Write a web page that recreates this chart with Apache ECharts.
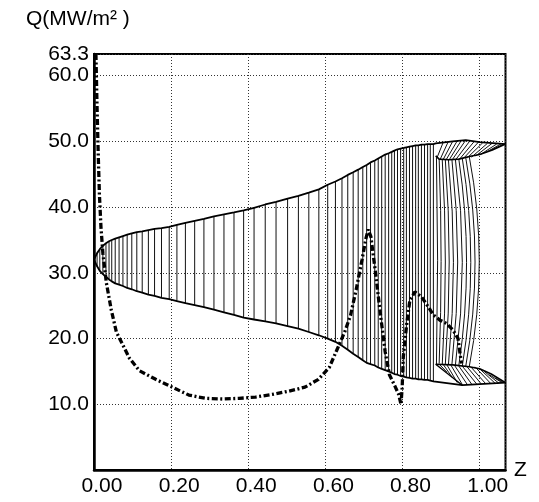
<!DOCTYPE html>
<html>
<head>
<meta charset="utf-8">
<script src="https://cdn.jsdelivr.net/npm/echarts@6/dist/echarts.min.js"></script>
<style>
  html, body { margin: 0; padding: 0; background: #fff; }
  #chart { width: 539px; height: 502px; }
</style>
</head>
<body>
<div id="chart"></div>
<script>
// Axis ranges
const zMax = 1.067;
const qMax = 63.3;

// Heat flux Q along Z (dashed curve)
const fluxZ = [0.005, 0.008, 0.011, 0.014, 0.018, 0.023, 0.032, 0.045, 0.058, 0.075,
               0.092, 0.118, 0.16, 0.203, 0.246, 0.29, 0.333, 0.376, 0.419, 0.462,
               0.505, 0.547, 0.582, 0.61, 0.63, 0.65, 0.665, 0.68, 0.695, 0.705,
               0.711, 0.718, 0.73, 0.742, 0.755, 0.766, 0.78, 0.79, 0.796, 0.799,
               0.802, 0.811, 0.819, 0.832, 0.85, 0.867, 0.88, 0.897, 0.914, 0.931,
               0.944, 0.948, 0.953];
const fluxQ = [63.3, 55, 48, 42, 37, 33, 28.5, 24.3, 21.0, 19.0,
               17.0, 15.1, 13.8, 12.6, 11.4, 10.9, 10.8, 10.9, 11.1, 11.5,
               12.0, 12.6, 13.8, 15.6, 18.3, 21.0, 23.5, 27.5, 32.0, 35.2,
               36.6, 35.5, 30.0, 24.0, 18.0, 14.5, 12.8, 11.5, 10.0, 12.5,
               17.2, 22.3, 25.8, 27.1, 26.3, 24.8, 23.6, 22.8, 22.3, 21.3,
               20.0, 18.2, 16.2];

// Vertical hatch lines of the band: position, top value, bottom value, bow to the right
const hatchZ = [0.008, 0.015, 0.023, 0.031, 0.039, 0.046, 0.055, 0.065, 0.075, 0.086,
                0.098, 0.111, 0.125, 0.141, 0.157, 0.175, 0.195, 0.215, 0.237, 0.261,
                0.285, 0.311, 0.337, 0.363, 0.388, 0.415, 0.444, 0.472, 0.502, 0.530,
                0.557, 0.583, 0.606, 0.626, 0.643, 0.658, 0.672, 0.685, 0.697, 0.707,
                0.717, 0.728, 0.737, 0.746, 0.755, 0.764, 0.772, 0.779, 0.787, 0.795,
                0.803, 0.810, 0.818, 0.826, 0.834, 0.841, 0.849, 0.857, 0.865, 0.872,
                0.880, 0.888, 0.895, 0.903, 0.911, 0.919, 0.928, 0.937, 0.946, 0.955,
                0.964, 0.973];
const hatchHi = [33.0, 33.6, 34.1, 34.5, 34.8, 35.0, 35.2, 35.4, 35.6, 35.8,
                 36.0, 36.2, 36.3, 36.5, 36.7, 36.8, 37.0, 37.3, 37.6, 37.9,
                 38.2, 38.6, 38.9, 39.2, 39.5, 39.9, 40.4, 40.8, 41.3, 41.7,
                 42.2, 42.7, 43.4, 43.9, 44.4, 44.9, 45.3, 45.7, 46.1, 46.4,
                 46.8, 47.1, 47.4, 47.7, 48.0, 48.2, 48.4, 48.6, 48.8, 48.9,
                 49.0, 49.1, 49.2, 49.3, 49.4, 49.4, 49.5, 49.5, 49.6, 49.6,
                 49.6, 47.6, 47.3, 47.2, 47.2, 47.2, 47.3, 47.3, 47.3, 47.4,
                 47.5, 47.7];
const hatchLo = [31.0, 30.3, 29.8, 29.4, 29.0, 28.7, 28.4, 28.2, 28.0, 27.7,
                 27.5, 27.2, 27.0, 26.7, 26.5, 26.2, 26.0, 25.7, 25.4, 25.1,
                 24.8, 24.4, 24.0, 23.6, 23.2, 22.9, 22.6, 22.3, 21.9, 21.5,
                 21.0, 20.5, 20.0, 19.5, 18.9, 18.3, 17.7, 17.2, 16.7, 16.3,
                 16.1, 15.9, 15.6, 15.4, 15.2, 15.0, 14.8, 14.6, 14.5, 14.3,
                 14.2, 14.1, 14.0, 13.9, 13.9, 13.8, 13.8, 13.7, 13.7, 13.6,
                 13.5, 16.1, 16.2, 16.1, 16.1, 16.0, 16.0, 15.9, 15.9, 15.8,
                 15.8, 15.7];
const hatchBow = [0, 0, 0, 0, 0, 0, 0, 0, 0, 0,
                  0, 0, 0, 0, 0, 0, 0, 0, 0, 0,
                  0, 0, 0, 0, 0, 0, 0, 0, 0, 0,
                  0, 0, 0, 0, 0, 0, 0, 0, 0, 0,
                  0, 0, 0, 0, 0, 0, 0, 0, 0, 0,
                  0, 0, 0, 0, 0, 0, 0, 0, 0, 0,
                  0, 0.003, 0.005, 0.008, 0.010, 0.013, 0.015, 0.018, 0.020, 0.022,
                  0.024, 0.026];

// Band outline beyond the last regular hatch line
const upperEndZ = [0.886, 0.93, 0.964, 1.0, 1.067];
const upperEndQ = [49.7, 50.0, 50.2, 49.9, 49.6];
const lowerEndZ = [0.955, 1.067];
const lowerEndQ = [12.9, 13.3];
const bandStartQ = 32.0;

// Upper wedge (fan) near the exit: lower edge and strokes [z1, q1, z2, q2]
const topFanEdgeZ = [0.886, 0.895, 0.92, 0.946, 0.973, 1.0, 1.033, 1.067];
const topFanEdgeQ = [47.8, 47.3, 47.2, 47.3, 47.7, 48.0, 48.7, 49.6];
const topFanStrokes = [
  [0.890, 47.6, 0.905, 49.8], [0.897, 47.2, 0.918, 49.9], [0.905, 47.2, 0.930, 50.0],
  [0.913, 47.2, 0.942, 50.1], [0.921, 47.2, 0.953, 50.2], [0.930, 47.3, 0.964, 50.2],
  [0.939, 47.3, 0.975, 50.1], [0.948, 47.3, 0.986, 50.0], [0.958, 47.4, 0.997, 49.9],
  [0.968, 47.5, 1.008, 49.8], [0.979, 47.6, 1.020, 49.7], [0.990, 47.8, 1.032, 49.7],
  [1.002, 48.0, 1.044, 49.6], [1.015, 48.3, 1.055, 49.6], [1.030, 48.7, 1.063, 49.6]
];

// Lower wedge (fan) near the exit
const botFanEdgeZ = [0.886, 0.93, 0.973, 1.0, 1.03, 1.067];
const botFanEdgeQ = [16.1, 16.0, 15.7, 15.4, 14.6, 13.3];
const botFanSideZ = [0.886, 0.955];
const botFanSideQ = [16.1, 12.9];
const botFanStrokes = [
  [0.895, 16.1, 0.915, 14.9], [0.905, 16.1, 0.930, 14.0], [0.915, 16.0, 0.942, 13.3],
  [0.925, 16.0, 0.955, 13.0], [0.935, 15.9, 0.968, 13.0], [0.945, 15.9, 0.980, 13.0],
  [0.955, 15.8, 0.992, 13.1], [0.966, 15.8, 1.004, 13.1], [0.977, 15.7, 1.016, 13.1],
  [0.988, 15.7, 1.028, 13.2], [1.000, 15.4, 1.040, 13.2], [1.012, 15.0, 1.050, 13.2],
  [1.025, 14.5, 1.058, 13.3], [1.040, 14.0, 1.063, 13.3]
];

const FONT = '"Liberation Sans", Arial, Helvetica, sans-serif';
const zip = (a, b) => a.map((v, i) => [v, b[i]]);

const hatchData = hatchZ.map((z, i) => [z, hatchHi[i], hatchLo[i], hatchBow[i]]);
const regular = hatchData.filter(d => d[0] < 0.885);
const upperLine = [[0, bandStartQ]].concat(regular.map(d => [d[0], d[1]]), zip(upperEndZ, upperEndQ));
const lowerLine = [[0, bandStartQ]].concat(regular.map(d => [d[0], d[2]]), zip(lowerEndZ, lowerEndQ));

const solid = (data, w) => ({
  type: 'line', data: data, showSymbol: false, symbol: 'none', silent: true,
  lineStyle: { color: '#000', width: w }, z: 3, animation: false
});

const strokeSeries = (data) => ({
  type: 'custom', silent: true, animation: false, z: 2,
  data: data,
  renderItem: (params, api) => {
    const a = api.coord([api.value(0), api.value(1)]);
    const b = api.coord([api.value(2), api.value(3)]);
    return { type: 'line', shape: { x1: a[0], y1: a[1], x2: b[0], y2: b[1] },
             style: { stroke: '#111', lineWidth: 1 } };
  }
});

const chart = echarts.init(document.getElementById('chart'));
chart.setOption({
  animation: false,
  backgroundColor: '#fff',
  graphic: [{
    type: 'text', left: 26, top: 9,
    style: { text: 'Q(MW/m² )', font: '21px ' + FONT, fill: '#000' }
  }],
  grid: {
    left: 94, top: 54, right: 33.5, bottom: 32,
    show: true, borderColor: '#000', borderWidth: 2,
    outerBoundsMode: 'none'
  },
  xAxis: {
    type: 'value', min: 0, max: zMax, interval: 0.2,
    name: 'Z', nameLocation: 'end', nameGap: 7,
    nameTextStyle: { fontFamily: FONT, fontSize: 21, color: '#000', verticalAlign: 'middle' },
    axisLine: { show: true, lineStyle: { color: '#000', width: 2.5 } },
    axisTick: { show: false },
    axisLabel: {
      fontFamily: FONT, fontSize: 21, color: '#000', margin: 6,
      padding: [0, 0, 0, 16],
      formatter: v => (v > 1.001 ? '' : v.toFixed(2))
    },
    splitLine: { show: true, lineStyle: { color: '#333', width: 1, type: [1, 2] } }
  },
  yAxis: {
    type: 'value', min: 0, max: qMax, interval: 10,
    axisLine: { show: true, lineStyle: { color: '#000', width: 2.5 } },
    axisTick: { show: false },
    axisLabel: {
      fontFamily: FONT, fontSize: 21, color: '#000', margin: 5,
      formatter: v => (v === 0 ? '' : v.toFixed(1))
    },
    splitLine: { show: true, lineStyle: { color: '#333', width: 1, type: [1, 2] } }
  },
  series: [
    {
      type: 'custom', silent: true, animation: false, z: 2,
      data: hatchData,
      renderItem: (params, api) => {
        const z = api.value(0), hi = api.value(1), lo = api.value(2), bow = api.value(3);
        const p1 = api.coord([z, hi]);
        const p3 = api.coord([z, lo]);
        if (bow > 0) {
          const pc = api.coord([z + 2 * bow, (hi + lo) / 2]);
          return { type: 'bezierCurve',
                   shape: { x1: p1[0], y1: p1[1], x2: p3[0], y2: p3[1], cpx1: pc[0], cpy1: pc[1] },
                   style: { stroke: '#111', lineWidth: 1, fill: null } };
        }
        return { type: 'line', shape: { x1: p1[0], y1: p1[1], x2: p3[0], y2: p3[1] },
                 style: { stroke: '#111', lineWidth: 1 } };
      }
    },
    strokeSeries(topFanStrokes),
    strokeSeries(botFanStrokes),
    solid(upperLine, 1.8),
    solid(lowerLine, 1.8),
    solid(zip(topFanEdgeZ, topFanEdgeQ), 1.6),
    solid(zip(botFanEdgeZ, botFanEdgeQ), 1.6),
    solid(zip(botFanSideZ, botFanSideQ), 1.4),
    {
      type: 'line', data: zip(fluxZ, fluxQ), showSymbol: false, symbol: 'none',
      silent: true, z: 4, animation: false,
      lineStyle: { color: '#000', width: 3.3, type: [6, 2.5, 2, 2.5] }
    }
  ]
});
</script>
</body>
</html>
